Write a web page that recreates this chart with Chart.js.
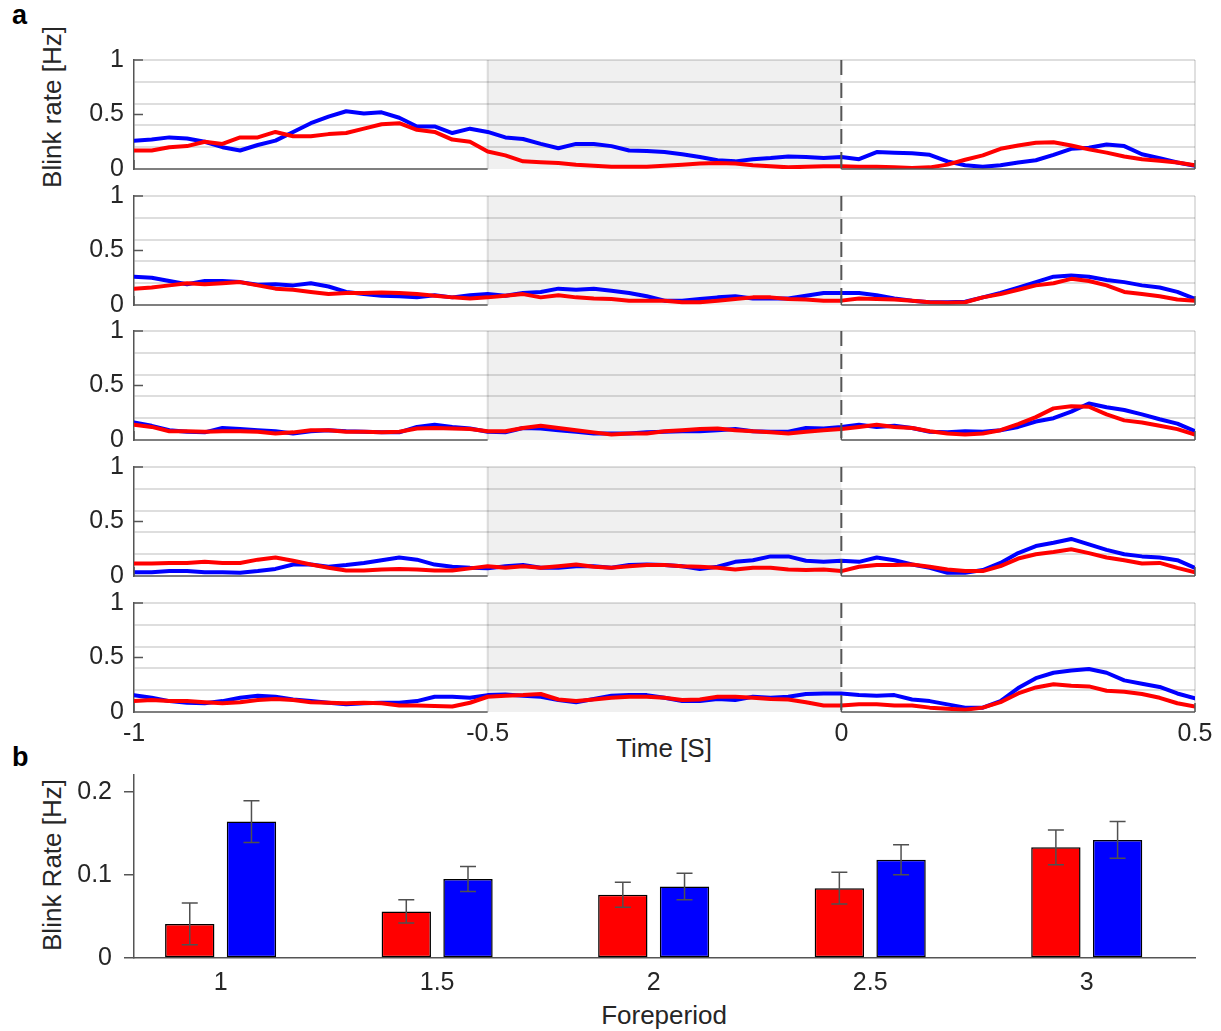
<!DOCTYPE html>
<html>
<head>
<meta charset="utf-8">
<script src="https://cdn.jsdelivr.net/npm/chart.js@4.4.1/dist/chart.umd.min.js"></script>
<style>
  html, body { margin: 0; padding: 0; background: #fff; }
  #fig { position: relative; width: 1221px; height: 1031px; overflow: hidden;
         font-family: 'Liberation Sans', Arial, sans-serif; color: #262626; }
  #fig canvas { position: absolute; left: 0; }
  .txt { position: absolute; white-space: nowrap; line-height: 1; }
  .letter { font-weight: bold; font-size: 27px; color: #000; }
  .ylab { font-size: 26px; transform: translate(-50%, -50%) rotate(-90deg); }
  .xlab { font-size: 26px; transform: translateX(-50%); }
</style>
</head>
<body>
<div id="fig">
  <div class="txt letter" style="left:12px; top:2px;">a</div>
  <div class="txt letter" style="left:12px; top:744px;">b</div>
  <div class="txt ylab" style="left:52px; top:107px;">Blink rate [Hz]</div>
  <div class="txt xlab" style="left:664px; top:735px;">Time [S]</div>
  <div class="txt ylab" style="left:52px; top:865px;">Blink Rate [Hz]</div>
  <div class="txt xlab" style="left:664px; top:1002px;">Foreperiod</div>
</div>
<script>
// time axis (s) relative to the target
const times = [
  -1, -0.975, -0.95, -0.925, -0.9, -0.875, -0.85, -0.825, -0.8, -0.775, -0.75,
  -0.725, -0.7, -0.675, -0.65, -0.625, -0.6, -0.575, -0.55, -0.525, -0.5,
  -0.475, -0.45, -0.425, -0.4, -0.375, -0.35, -0.325, -0.3, -0.275, -0.25,
  -0.225, -0.2, -0.175, -0.15, -0.125, -0.1, -0.075, -0.05, -0.025, 0,
  0.025, 0.05, 0.075, 0.1, 0.125, 0.15, 0.175, 0.2, 0.225, 0.25,
  0.275, 0.3, 0.325, 0.35, 0.375, 0.4, 0.425, 0.45, 0.475, 0.5
];
const timeTicks = [-1, -0.5, 0, 0.5];
const rateTicks = [0, 0.5, 1];
const rateGrid = [0.2, 0.4, 0.6, 0.8, 1];
const cueWindow = [-0.5, 0];

// blink rate per foreperiod, one row per panel
const p1Blue = [0.26,0.27,0.29,0.28,0.25,0.20,0.17,0.22,0.26,0.34,0.42,0.48,0.53,0.51,0.52,0.47,0.39,0.39,0.33,0.37,0.34,
  0.29,0.275,0.23,0.19,0.23,0.23,0.21,0.17,0.165,0.155,0.135,0.11,0.08,0.07,0.09,0.10,0.115,0.11,0.10,0.11,
  0.09,0.155,0.15,0.145,0.13,0.07,0.035,0.02,0.035,0.06,0.08,0.13,0.185,0.195,0.225,0.21,0.135,0.10,0.06,0.03];
const p1Red = [0.17,0.17,0.20,0.21,0.25,0.23,0.29,0.29,0.34,0.30,0.30,0.32,0.33,0.37,0.41,0.42,0.36,0.34,0.27,0.25,0.16,
  0.125,0.07,0.063,0.055,0.04,0.03,0.02,0.02,0.02,0.03,0.04,0.05,0.055,0.05,0.035,0.025,0.015,0.02,0.025,0.025,
  0.02,0.02,0.015,0.01,0.015,0.04,0.085,0.125,0.185,0.215,0.24,0.245,0.215,0.18,0.15,0.115,0.09,0.075,0.06,0.035];

const p2Blue = [0.26,0.25,0.22,0.19,0.22,0.22,0.21,0.185,0.19,0.18,0.20,0.17,0.12,0.10,0.085,0.08,0.07,0.09,0.07,0.09,0.10,
  0.085,0.11,0.12,0.15,0.14,0.15,0.13,0.11,0.08,0.04,0.04,0.055,0.07,0.08,0.06,0.06,0.06,0.085,0.11,0.11,
  0.11,0.09,0.06,0.04,0.025,0.025,0.03,0.07,0.11,0.16,0.21,0.26,0.27,0.26,0.23,0.21,0.18,0.16,0.12,0.055];
const p2Red = [0.15,0.16,0.18,0.20,0.19,0.20,0.21,0.18,0.15,0.14,0.12,0.10,0.11,0.11,0.115,0.11,0.10,0.085,0.07,0.06,0.07,
  0.085,0.10,0.07,0.09,0.07,0.06,0.055,0.04,0.04,0.04,0.025,0.025,0.04,0.055,0.07,0.07,0.055,0.05,0.04,0.04,
  0.06,0.055,0.05,0.04,0.025,0.02,0.025,0.07,0.10,0.14,0.18,0.20,0.24,0.22,0.18,0.12,0.10,0.08,0.05,0.04];

const p3Blue = [0.16,0.13,0.09,0.075,0.07,0.11,0.10,0.09,0.08,0.06,0.08,0.09,0.08,0.075,0.07,0.07,0.12,0.14,0.12,0.105,0.075,
  0.07,0.11,0.105,0.09,0.075,0.06,0.06,0.06,0.07,0.075,0.08,0.08,0.09,0.10,0.08,0.075,0.075,0.11,0.105,0.12,
  0.14,0.12,0.13,0.11,0.075,0.07,0.08,0.075,0.09,0.12,0.17,0.20,0.26,0.335,0.30,0.275,0.235,0.19,0.15,0.08];
const p3Red = [0.14,0.12,0.08,0.08,0.075,0.08,0.08,0.075,0.06,0.07,0.09,0.09,0.075,0.075,0.07,0.075,0.105,0.11,0.105,0.10,0.08,
  0.08,0.11,0.13,0.11,0.09,0.07,0.05,0.06,0.06,0.08,0.09,0.10,0.105,0.09,0.08,0.07,0.06,0.075,0.09,0.10,
  0.12,0.14,0.12,0.11,0.08,0.06,0.05,0.06,0.09,0.145,0.21,0.29,0.31,0.305,0.235,0.18,0.16,0.13,0.10,0.05];

const p4Blue = [0.035,0.035,0.045,0.045,0.035,0.035,0.03,0.045,0.065,0.105,0.105,0.085,0.10,0.12,0.145,0.17,0.15,0.105,0.085,0.075,0.07,
  0.09,0.10,0.075,0.075,0.09,0.09,0.075,0.10,0.105,0.10,0.09,0.065,0.085,0.13,0.145,0.18,0.18,0.14,0.13,0.14,
  0.13,0.17,0.145,0.105,0.075,0.03,0.03,0.055,0.12,0.21,0.275,0.305,0.34,0.29,0.24,0.20,0.18,0.17,0.145,0.075];
const p4Red = [0.115,0.115,0.12,0.12,0.13,0.12,0.12,0.15,0.17,0.14,0.105,0.075,0.05,0.05,0.06,0.065,0.06,0.05,0.05,0.07,0.09,
  0.075,0.09,0.075,0.09,0.105,0.085,0.075,0.09,0.10,0.10,0.09,0.085,0.075,0.06,0.075,0.075,0.06,0.055,0.06,0.045,
  0.085,0.10,0.10,0.105,0.085,0.06,0.045,0.045,0.09,0.16,0.20,0.22,0.245,0.21,0.17,0.145,0.115,0.12,0.075,0.035];

const p5Blue = [0.155,0.13,0.10,0.085,0.08,0.10,0.13,0.15,0.14,0.115,0.10,0.085,0.07,0.08,0.085,0.085,0.10,0.14,0.14,0.13,0.155,
  0.16,0.15,0.14,0.11,0.09,0.12,0.15,0.155,0.155,0.13,0.10,0.10,0.12,0.11,0.14,0.13,0.14,0.165,0.17,0.17,
  0.155,0.15,0.155,0.115,0.10,0.07,0.04,0.04,0.10,0.22,0.31,0.36,0.38,0.395,0.36,0.29,0.26,0.23,0.17,0.125];
const p5Red = [0.10,0.11,0.10,0.10,0.09,0.08,0.09,0.11,0.12,0.11,0.09,0.085,0.08,0.085,0.08,0.06,0.06,0.055,0.05,0.085,0.14,
  0.15,0.155,0.165,0.115,0.10,0.115,0.13,0.14,0.14,0.13,0.11,0.115,0.14,0.14,0.13,0.12,0.115,0.09,0.06,0.06,
  0.07,0.07,0.06,0.06,0.04,0.03,0.02,0.04,0.09,0.17,0.225,0.255,0.24,0.235,0.195,0.185,0.165,0.13,0.08,0.05];

// mean blink rate per foreperiod with error
const foreperiods = [1, 1.5, 2, 2.5, 3];
const rateRed = [0.041, 0.056, 0.076, 0.084, 0.133];
const errRed = [0.025, 0.014, 0.015, 0.019, 0.021];
const rateBlue = [0.164, 0.095, 0.086, 0.118, 0.142];
const errBlue = [0.025, 0.015, 0.016, 0.018, 0.022];
const barTicks = [0, 0.1, 0.2];

const panelSeries = [
  [p1Blue, p1Red], [p2Blue, p2Red], [p3Blue, p3Red], [p4Blue, p4Red], [p5Blue, p5Red]
];

const W = 1221;
const PLOT_LEFT = 134;
const PLOT_RIGHT = 1195;
const PANEL_TOPS = [60, 196, 331, 467, 603];
const PANEL_H = 109;
const PAD = 14;
const AXIS_DARK = '#555555';
const TEXT = '#262626';
const tickFont = { family: "'Liberation Sans', Arial, sans-serif", size: 25 };

const near = (a, b) => Math.abs(a - b) < 1e-6;
const toPoints = (vals) => vals.map((v, i) => ({ x: times[i], y: v }));

// keep the plot box where the layout padding puts it; labels may overhang
function fixedWidth(w) {
  return (s) => { s.width = w; s.paddingTop = 0; s.paddingBottom = 0; };
}
function fixedHeight(h) {
  return (s) => { s.height = h; s.paddingLeft = 0; s.paddingRight = 0; };
}

// grey cue window, frame lines, inward ticks and the zero marker
const timeFrame = {
  id: 'timeFrame',
  beforeDraw(chart) {
    const { ctx, chartArea: a, scales: { x } } = chart;
    const x0 = x.getPixelForValue(cueWindow[0]);
    const x1 = x.getPixelForValue(cueWindow[1]);
    ctx.save();
    ctx.fillStyle = '#f0f0f0';
    ctx.fillRect(x0, a.top, x1 - x0, a.bottom - a.top);
    ctx.strokeStyle = 'rgba(0,0,0,0.12)';
    ctx.lineWidth = 2;
    ctx.beginPath();
    ctx.moveTo(x0, a.top); ctx.lineTo(x0, a.bottom);
    ctx.moveTo(a.right, a.top); ctx.lineTo(a.right, a.bottom);
    ctx.stroke();
    ctx.restore();
  },
  afterDatasetsDraw(chart) {
    const { ctx, chartArea: a, scales: { x, y } } = chart;
    const x0 = x.getPixelForValue(cueWindow[0]);
    const x1 = x.getPixelForValue(cueWindow[1]);
    const yb = y.getPixelForValue(0);
    ctx.save();
    ctx.strokeStyle = AXIS_DARK;
    ctx.lineWidth = 1.5;
    ctx.beginPath();
    // bottom axis, interrupted by the cue window
    ctx.moveTo(a.left, yb); ctx.lineTo(x0, yb);
    ctx.moveTo(x1, yb); ctx.lineTo(a.right, yb);
    rateTicks.filter(v => v > 0).forEach(v => {
      const py = y.getPixelForValue(v);
      ctx.moveTo(a.left, py); ctx.lineTo(a.left + 9, py);
    });
    timeTicks.filter(v => v < cueWindow[0] || v >= cueWindow[1]).forEach(v => {
      const px = x.getPixelForValue(v);
      ctx.moveTo(px, yb); ctx.lineTo(px, yb - 9);
    });
    ctx.stroke();
    // dashed marker at t = 0
    ctx.lineWidth = 2;
    ctx.setLineDash([15, 8]);
    ctx.beginPath();
    ctx.moveTo(x1, a.top); ctx.lineTo(x1, a.bottom);
    ctx.stroke();
    ctx.restore();
  }
};

function timeChart(idx) {
  const last = idx === PANEL_TOPS.length - 1;
  const axisH = last ? 45 : 0;
  const canvas = document.createElement('canvas');
  canvas.width = W;
  canvas.height = PAD + PANEL_H + (last ? axisH : PAD);
  canvas.style.top = (PANEL_TOPS[idx] - PAD) + 'px';
  document.getElementById('fig').appendChild(canvas);

  const [blue, red] = panelSeries[idx];
  return new Chart(canvas, {
    type: 'line',
    data: {
      datasets: [
        { data: toPoints(red), borderColor: '#ff0000', order: 0 },
        { data: toPoints(blue), borderColor: '#0000ff', order: 1 },
      ],
    },
    options: {
      responsive: false,
      animation: false,
      events: [],
      layout: { padding: { top: PAD, right: W - PLOT_RIGHT, bottom: last ? 0 : PAD, left: 0 } },
      elements: {
        point: { radius: 0 },
        line: { borderWidth: 4, tension: 0, borderCapStyle: 'round', borderJoinStyle: 'round' },
      },
      plugins: { legend: { display: false }, tooltip: { enabled: false } },
      scales: {
        x: {
          type: 'linear',
          min: -1,
          max: 0.5,
          display: last,
          afterBuildTicks: (s) => { s.ticks = timeTicks.map(v => ({ value: v })); },
          afterFit: fixedHeight(axisH),
          grid: { display: false, drawTicks: false },
          border: { display: false },
          ticks: { autoSkip: false, maxRotation: 0, padding: 7, color: TEXT, font: tickFont,
                   callback: (v) => String(v) },
        },
        y: {
          min: 0,
          max: 1,
          afterBuildTicks: (s) => {
            const vals = [...new Set([...rateTicks, ...rateGrid])].sort((a, b) => a - b);
            s.ticks = vals.map(v => ({ value: v }));
          },
          afterFit: fixedWidth(PLOT_LEFT),
          grid: {
            drawTicks: false,
            lineWidth: 2,
            color: (c) => rateGrid.some(g => near(g, c.tick.value)) ? 'rgba(0,0,0,0.13)' : 'rgba(0,0,0,0)',
          },
          border: { color: AXIS_DARK, width: 1.5 },
          ticks: {
            autoSkip: false, padding: 10, color: TEXT, font: tickFont,
            callback: (v) => rateTicks.some(t => near(t, v)) ? String(v) : '',
          },
        },
      },
    },
    plugins: [timeFrame],
  });
}

PANEL_TOPS.forEach((_, i) => timeChart(i));

// error bars on top of each bar
const errorBars = {
  id: 'errorBars',
  afterDatasetsDraw(chart) {
    const { ctx, scales: { y } } = chart;
    ctx.save();
    ctx.strokeStyle = '#505050';
    ctx.lineWidth = 1.5;
    chart.data.datasets.forEach((ds, di) => {
      chart.getDatasetMeta(di).data.forEach((bar, i) => {
        const v = ds.data[i].y;
        const e = ds.errors[i];
        const hi = y.getPixelForValue(v + e);
        const lo = y.getPixelForValue(v - e);
        ctx.beginPath();
        ctx.moveTo(bar.x, hi); ctx.lineTo(bar.x, lo);
        ctx.moveTo(bar.x - 8, hi); ctx.lineTo(bar.x + 8, hi);
        ctx.moveTo(bar.x - 8, lo); ctx.lineTo(bar.x + 8, lo);
        ctx.stroke();
      });
    });
    ctx.restore();
  }
};

const BAR_TOP = 760;
const BAR_PLOT_TOP = 775;
const BAR_PLOT_BOTTOM = 958;
const barCanvas = document.createElement('canvas');
barCanvas.width = W;
barCanvas.height = 1031 - BAR_TOP;
barCanvas.style.top = BAR_TOP + 'px';
document.getElementById('fig').appendChild(barCanvas);

new Chart(barCanvas, {
  type: 'bar',
  data: {
    datasets: [
      { data: foreperiods.map((f, i) => ({ x: f, y: rateRed[i] })), errors: errRed, backgroundColor: '#ff0000' },
      { data: foreperiods.map((f, i) => ({ x: f, y: rateBlue[i] })), errors: errBlue, backgroundColor: '#0000ff' },
    ],
  },
  options: {
    responsive: false,
    animation: false,
    events: [],
    datasets: {
      bar: { categoryPercentage: 0.57, barPercentage: 0.8, borderColor: '#000', borderWidth: 1.5, borderSkipped: false },
    },
    layout: { padding: { top: BAR_PLOT_TOP - BAR_TOP, right: W - PLOT_RIGHT, bottom: 0, left: 0 } },
    plugins: { legend: { display: false }, tooltip: { enabled: false } },
    scales: {
      x: {
        type: 'linear',
        min: 0.8,
        max: 3.25,
        offset: false,
        afterBuildTicks: (s) => { s.ticks = foreperiods.map(v => ({ value: v })); },
        afterFit: fixedHeight(1031 - BAR_PLOT_BOTTOM),
        grid: { display: false, drawTicks: false },
        border: { color: AXIS_DARK, width: 1.5 },
        ticks: { autoSkip: false, maxRotation: 0, padding: 10, color: TEXT, font: tickFont,
                 callback: (v) => String(v) },
      },
      y: {
        min: 0,
        max: 0.22,
        afterBuildTicks: (s) => { s.ticks = barTicks.map(v => ({ value: v })); },
        afterFit: fixedWidth(PLOT_LEFT),
        grid: { drawOnChartArea: false, drawTicks: true, tickLength: 10, color: AXIS_DARK, lineWidth: 1.5 },
        border: { color: AXIS_DARK, width: 1.5 },
        ticks: { autoSkip: false, padding: 12, color: TEXT, font: tickFont, callback: (v) => String(v) },
      },
    },
  },
  plugins: [errorBars],
});
</script>
</body>
</html>
